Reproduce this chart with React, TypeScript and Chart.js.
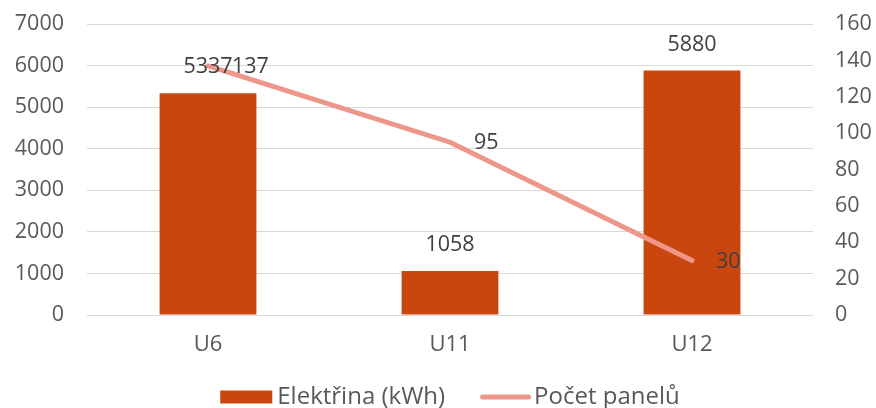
import React, { useEffect, useRef } from "react";
import { Chart, registerables } from "chart.js";

Chart.register(...registerables);

const categories = ["U6", "U11", "U12"];
const electricity = [5337, 1058, 5880];
const panels = [137, 95, 30];
const leftTicks = [0, 1000, 2000, 3000, 4000, 5000, 6000, 7000];
const rightTicks = [0, 20, 40, 60, 80, 100, 120, 140, 160];
const seriesNames = ["Elektřina (kWh)", "Počet panelů"];

const BAR_COLOR = "#C9470F";
const LINE_COLOR = "#EE968A";
const TICK_COLOR = "#595959";
const LABEL_COLOR = "#404040";
const FONT_FAMILY = '"Open Sans", "Noto Sans", sans-serif';
const NUM_SIZE = 21.5;

const valueLabels = {
  id: "valueLabels",
  afterDatasetsDraw(chart: any) {
    const ctx = chart.ctx;
    ctx.save();
    ctx.font = `${NUM_SIZE}px ${FONT_FAMILY}`;
    ctx.fillStyle = LABEL_COLOR;
    ctx.textBaseline = "middle";
    const barMeta = chart.getDatasetMeta(0);
    barMeta.data.forEach((el: any, i: number) => {
      ctx.textAlign = "center";
      ctx.fillText(String(electricity[i]), el.x, el.y - 26);
    });
    const lineMeta = chart.getDatasetMeta(1);
    lineMeta.data.forEach((el: any, i: number) => {
      ctx.textAlign = "left";
      ctx.fillText(String(panels[i]), el.x + 24, el.y + 1);
    });
    ctx.restore();
  },
};

const bottomLegend = {
  id: "bottomLegend",
  afterDraw(chart: any) {
    const ctx = chart.ctx;
    const ds = chart.data.datasets;
    ctx.save();
    ctx.font = `24px ${FONT_FAMILY}`;
    ctx.textBaseline = "middle";
    ctx.textAlign = "left";
    const w1 = ctx.measureText(ds[0].label).width;
    const w2 = ctx.measureText(ds[1].label).width;
    const total = 52 + 5 + w1 + 35 + 51 + 3 + w2;
    const cx = (chart.chartArea.left + chart.chartArea.right) / 2;
    let x = cx - total / 2;
    const y = 397;
    ctx.fillStyle = ds[0].backgroundColor;
    ctx.fillRect(x, y - 6.5, 52, 13);
    x += 57;
    ctx.fillStyle = TICK_COLOR;
    ctx.fillText(ds[0].label, x, y);
    x += w1 + 35;
    ctx.strokeStyle = ds[1].borderColor;
    ctx.lineWidth = 5;
    ctx.lineCap = "round";
    ctx.beginPath();
    ctx.moveTo(x + 2.5, y);
    ctx.lineTo(x + 48.5, y);
    ctx.stroke();
    x += 54;
    ctx.fillStyle = TICK_COLOR;
    ctx.fillText(ds[1].label, x, y);
    ctx.restore();
  },
};

export default function App() {
  const canvasRef = useRef<HTMLCanvasElement | null>(null);

  useEffect(() => {
    document.body.style.margin = "0";
    const canvas = canvasRef.current;
    if (!canvas) return;
    const numFont = { family: FONT_FAMILY, size: NUM_SIZE };
    const catFont = { family: FONT_FAMILY, size: 22 };
    const plain = (v: any) => String(v);
    const chart = new Chart(canvas, {
      type: "bar",
      data: {
        labels: categories,
        datasets: [
          {
            type: "bar",
            label: seriesNames[0],
            data: electricity,
            backgroundColor: BAR_COLOR,
            borderWidth: 0,
            yAxisID: "y",
            barPercentage: 0.4,
            categoryPercentage: 1,
            order: 1,
          } as any,
          {
            type: "line",
            label: seriesNames[1],
            data: panels,
            borderColor: LINE_COLOR,
            backgroundColor: LINE_COLOR,
            borderWidth: 5,
            borderCapStyle: "round",
            pointRadius: 0,
            pointHoverRadius: 0,
            yAxisID: "y1",
            order: 0,
          } as any,
        ],
      },
      options: {
        responsive: false,
        animation: false,
        devicePixelRatio: 1,
        layout: { padding: { top: 24, bottom: 0, left: 0, right: 0 } },
        plugins: {
          tooltip: { enabled: false },
          legend: { display: false },
        },
        scales: {
          x: {
            grid: { display: false, drawTicks: false },
            border: { display: false },
            ticks: { color: TICK_COLOR, font: catFont, padding: 17 },
            afterFit(s: any) {
              s.height = 93;
            },
          },
          y: {
            position: "left",
            min: 0,
            max: 7000,
            afterBuildTicks(s: any) {
              s.ticks = leftTicks.map((v) => ({ value: v }));
            },
            grid: { color: "#D9D9D9", lineWidth: 1, drawTicks: false },
            border: { display: false },
            ticks: { color: TICK_COLOR, font: numFont, padding: 23, callback: plain },
            afterFit(s: any) {
              s.width = 87;
              s.paddingTop = 0;
              s.paddingBottom = 0;
            },
          },
          y1: {
            position: "right",
            min: 0,
            max: 160,
            afterBuildTicks(s: any) {
              s.ticks = rightTicks.map((v) => ({ value: v }));
            },
            grid: { display: false, drawTicks: false },
            border: { display: false },
            ticks: { color: TICK_COLOR, font: numFont, padding: 22, callback: plain },
            afterFit(s: any) {
              s.width = 63;
              s.paddingTop = 0;
              s.paddingBottom = 0;
            },
          },
        },
      } as any,
      plugins: [valueLabels, bottomLegend],
    });
    return () => chart.destroy();
  }, []);

  return (
    <div style={{ width: 876, height: 408, background: "#fff" }}>
      <canvas ref={canvasRef} width={876} height={408} style={{ display: "block" }} />
    </div>
  );
}
